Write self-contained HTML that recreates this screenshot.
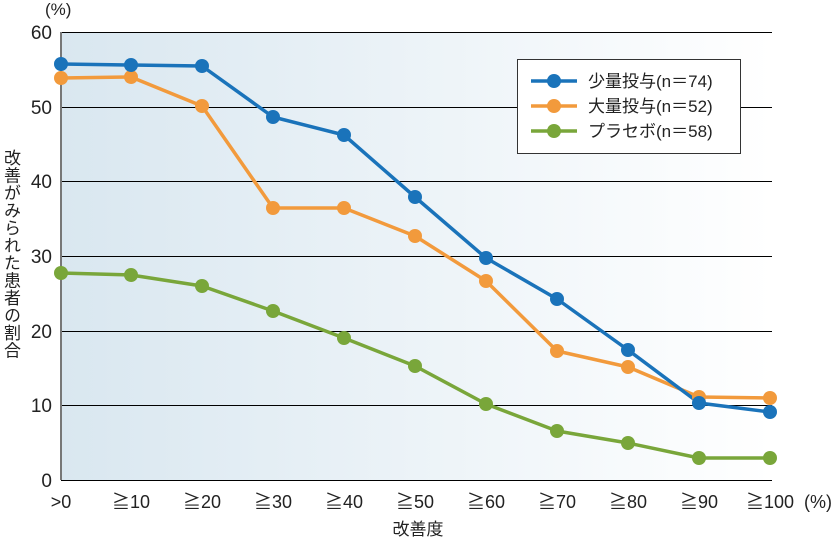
<!DOCTYPE html>
<html><head><meta charset="utf-8"><style>
body{margin:0;background:#fff;position:relative;width:839px;height:542px;overflow:hidden}
svg{display:block;font-family:"Liberation Sans","Noto Sans CJK JP",sans-serif}
.yl{position:absolute;left:0;top:149px;writing-mode:vertical-rl;font-family:"Liberation Sans","Noto Sans CJK JP",sans-serif;font-size:17px;line-height:20px;color:#222;letter-spacing:0.5px}
</style></head><body>
<svg width="839" height="542" viewBox="0 0 839 542">
<defs><linearGradient id="g" x1="0" x2="1" y1="0" y2="0">
<stop offset="0" stop-color="#d9e7f0"/><stop offset="1" stop-color="#ffffff"/></linearGradient></defs>
<rect x="61" y="32" width="711" height="448" fill="url(#g)"/>
<g stroke="#000" stroke-width="1">
<line x1="61" x2="772" y1="32.5" y2="32.5"/><line x1="61" x2="772" y1="107.5" y2="107.5"/>
<line x1="61" x2="772" y1="181.5" y2="181.5"/><line x1="61" x2="772" y1="256.5" y2="256.5"/>
<line x1="61" x2="772" y1="331.5" y2="331.5"/><line x1="61" x2="772" y1="405.5" y2="405.5"/>
<line x1="61" x2="772" y1="480.5" y2="480.5"/>
</g>
<line x1="61" x2="61" y1="32" y2="480" stroke="#777" stroke-width="2"/>
<g font-size="19" text-anchor="end" fill="#222">
<text x="52" y="39">60</text><text x="52" y="114">50</text><text x="52" y="188">40</text>
<text x="52" y="263">30</text><text x="52" y="338">20</text><text x="52" y="412">10</text><text x="52" y="487">0</text>
</g>
<text x="45" y="15" font-size="17" fill="#222">(%)</text>
<g font-size="18" text-anchor="middle" fill="#222">
<text x="61" y="508">&gt;0</text><text x="131" y="508">≧10</text><text x="202" y="508">≧20</text>
<text x="273" y="508">≧30</text><text x="344" y="508">≧40</text><text x="415" y="508">≧50</text>
<text x="486" y="508">≧60</text><text x="557" y="508">≧70</text><text x="628" y="508">≧80</text>
<text x="699" y="508">≧90</text><text x="770" y="508">≧100</text><text x="818" y="508">(%)</text>
<text x="418" y="535" font-size="17">改善度</text>
</g>
<g fill="none" stroke-width="3.5" stroke-linejoin="round">
<polyline stroke="#79a63a" points="61,273 131,275 202,286 273,311 344,338 415,366 486,404 557,431 628,443 699,458 770,458"/>
<polyline stroke="#f29a3c" points="61,78 131,77 202,106 273,208 344,208 415,236 486,281 557,351 628,367 699,397 770,398"/>
<polyline stroke="#1a73ba" points="61,64 131,65 202,66 273,117 344,135 415,197 486,258 557,299 628,350 699,403 770,412"/>
</g>
<g fill="#79a63a"><circle cx="61" cy="273" r="7"/><circle cx="131" cy="275" r="7"/><circle cx="202" cy="286" r="7"/><circle cx="273" cy="311" r="7"/><circle cx="344" cy="338" r="7"/><circle cx="415" cy="366" r="7"/><circle cx="486" cy="404" r="7"/><circle cx="557" cy="431" r="7"/><circle cx="628" cy="443" r="7"/><circle cx="699" cy="458" r="7"/><circle cx="770" cy="458" r="7"/></g>
<g fill="#f29a3c"><circle cx="61" cy="78" r="7"/><circle cx="131" cy="77" r="7"/><circle cx="202" cy="106" r="7"/><circle cx="273" cy="208" r="7"/><circle cx="344" cy="208" r="7"/><circle cx="415" cy="236" r="7"/><circle cx="486" cy="281" r="7"/><circle cx="557" cy="351" r="7"/><circle cx="628" cy="367" r="7"/><circle cx="699" cy="397" r="7"/><circle cx="770" cy="398" r="7"/></g>
<g fill="#1a73ba"><circle cx="61" cy="64" r="7"/><circle cx="131" cy="65" r="7"/><circle cx="202" cy="66" r="7"/><circle cx="273" cy="117" r="7"/><circle cx="344" cy="135" r="7"/><circle cx="415" cy="197" r="7"/><circle cx="486" cy="258" r="7"/><circle cx="557" cy="299" r="7"/><circle cx="628" cy="350" r="7"/><circle cx="699" cy="403" r="7"/><circle cx="770" cy="412" r="7"/></g>
<rect x="517.5" y="59.5" width="223" height="94" fill="#fff" stroke="#333"/>
<g stroke-width="3.5">
<line x1="531" x2="577" y1="81" y2="81" stroke="#1a73ba"/><circle cx="554" cy="81" r="7" fill="#1a73ba"/>
<line x1="531" x2="577" y1="106" y2="106" stroke="#f29a3c"/><circle cx="554" cy="106" r="7" fill="#f29a3c"/>
<line x1="531" x2="577" y1="131" y2="131" stroke="#79a63a"/><circle cx="554" cy="131" r="7" fill="#79a63a"/>
</g>
<g font-size="17" fill="#222">
<text x="588" y="87">少量投与(n＝74)</text>
<text x="588" y="112">大量投与(n＝52)</text>
<text x="588" y="137">プラセボ(n＝58)</text>
</g>
</svg>
<div class="yl">改善がみられた患者の割合</div>
</body></html>
